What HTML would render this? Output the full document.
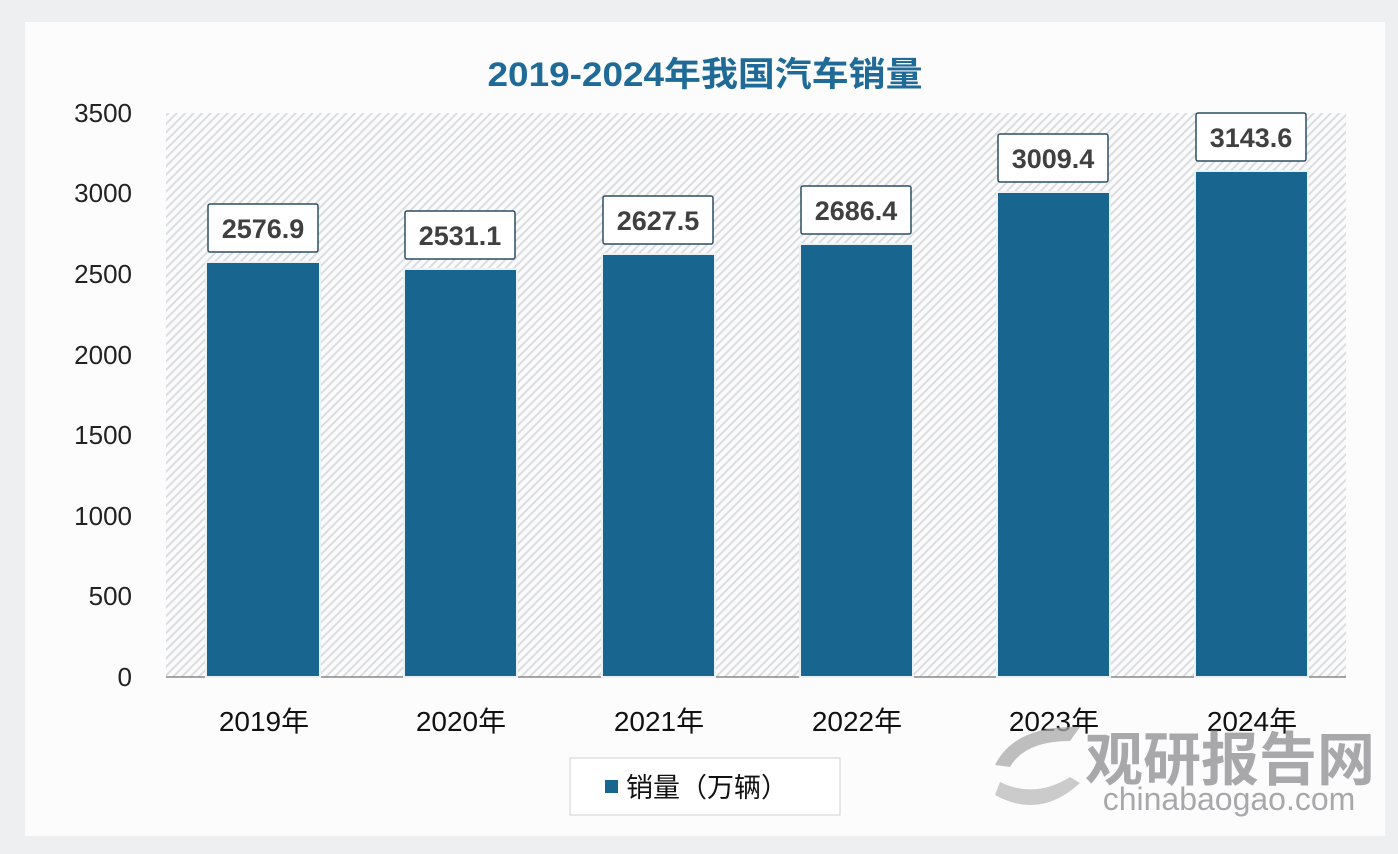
<!DOCTYPE html>
<html><head><meta charset="utf-8"><style>
body{margin:0;background:#f2f3f5;}
svg{display:block;font-family:"Liberation Sans","Noto Sans CJK SC",sans-serif;}
</style></head><body>
<svg width="1398" height="854" viewBox="0 0 1398 854">
<defs>
<pattern id="h" width="6" height="6" patternUnits="userSpaceOnUse" patternTransform="rotate(45)">
<rect width="6" height="6" fill="#fbfbfc"/><rect width="2" height="6" fill="#dcdde0"/>
</pattern>
</defs>
<rect x="0" y="0" width="1398" height="854" fill="#eeeff1"/>
<rect x="25" y="22" width="1360" height="814" fill="#fcfcfd"/>
<text x="705" y="86" text-anchor="middle" font-size="34" font-weight="bold" fill="#1f6a96" textLength="435" lengthAdjust="spacingAndGlyphs">2019-2024年我国汽车销量</text>
<rect x="166" y="113" width="1180" height="564" fill="url(#h)"/>
<line x1="166" y1="677" x2="1346" y2="677" stroke="#8a8a8a" stroke-width="1.5"/>
<g font-size="26" fill="#222" text-anchor="end">
<text x="132" y="686">0</text><text x="132" y="605">500</text><text x="132" y="525">1000</text>
<text x="132" y="444">1500</text><text x="132" y="364">2000</text><text x="132" y="283">2500</text>
<text x="132" y="202">3000</text><text x="132" y="122">3500</text>
</g>
<g fill="#18668f" stroke="#eaf2f6" stroke-width="2">
<rect x="206" y="262" width="114" height="415"/>
<rect x="404" y="269" width="113" height="408"/>
<rect x="602" y="254" width="113" height="423"/>
<rect x="800" y="244" width="113" height="433"/>
<rect x="997" y="192" width="113" height="485"/>
<rect x="1195" y="171" width="113" height="506"/>
</g>
<g fill="#fff" stroke="#2a4f63" stroke-width="1.5">
<rect x="208" y="204" width="110" height="48" rx="2"/>
<rect x="405" y="211" width="110" height="48" rx="2"/>
<rect x="603" y="196" width="110" height="48" rx="2"/>
<rect x="801" y="186" width="110" height="48" rx="2"/>
<rect x="998" y="134" width="110" height="48" rx="2"/>
<rect x="1196" y="113" width="110" height="48" rx="2"/>
</g>
<g font-size="27" font-weight="bold" fill="#404040" text-anchor="middle">
<text x="263" y="238">2576.9</text><text x="460" y="245">2531.1</text>
<text x="658" y="230">2627.5</text><text x="856" y="220">2686.4</text>
<text x="1053" y="168">3009.4</text><text x="1251" y="147">3143.6</text>
</g>
<g font-size="28" fill="#111" text-anchor="middle">
<text x="264" y="731">2019年</text><text x="461" y="731">2020年</text>
<text x="659" y="731">2021年</text><text x="857" y="731">2022年</text>
<text x="1054" y="731">2023年</text><text x="1252" y="731">2024年</text>
</g>
<rect x="570" y="758" width="270" height="57" fill="#fff" stroke="#d0d0d0"/>
<rect x="605" y="780" width="13" height="13" fill="#18668f"/>
<text x="626" y="797" font-size="27" fill="#111">销量（万辆）</text>
<g opacity="0.75">
<path d="M995 765 q20 -40 85 -38 l-10 14 q-45 0 -60 26z" fill="#aaa"/>
<path d="M995 795 q45 25 85 -12 l-10 -6 q-35 22 -70 5z" fill="#bbb"/>
<text x="1230" y="780" text-anchor="middle" font-size="58" font-weight="bold" fill="#8c8c90">观研报告网</text>
<text x="1229" y="810" text-anchor="middle" font-size="32" fill="#8c8c90">chinabaogao.com</text>
</g>
</svg>
</body></html>
